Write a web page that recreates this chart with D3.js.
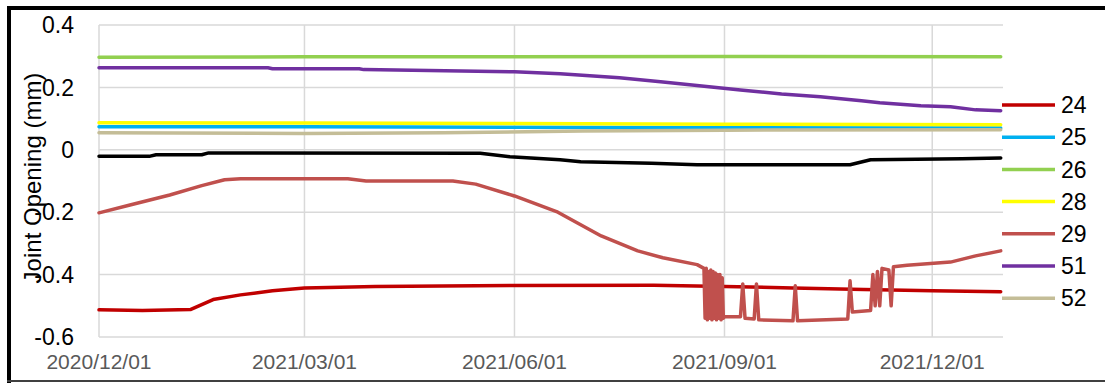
<!DOCTYPE html>
<html>
<head>
<meta charset="utf-8">
<script src="https://cdn.jsdelivr.net/npm/d3@7"></script>
<style>
  html, body { margin: 0; padding: 0; background: #fff; }
  svg { display: block; font-family: "Liberation Sans", Arial, sans-serif; }
</style>
</head>
<body>
<div id="chart"></div>
<script>
// tick labels
const xTickDates = ["2020-12-01", "2021-03-01", "2021-06-01", "2021-09-01", "2021-12-01"];
const yTickValues = [0.4, 0.2, 0, -0.2, -0.4, -0.6];
const yTickLabels = ["0.4", "0.2", "0", "-0.2", "-0.4", "-0.6"];

// series, [date, joint opening mm]
const s24 = [["2020-12-01", -0.513], ["2020-12-20", -0.515], ["2021-01-10", -0.512], ["2021-01-20", -0.48],
  ["2021-02-01", -0.465], ["2021-02-15", -0.452], ["2021-03-01", -0.443], ["2021-04-01", -0.438],
  ["2021-06-01", -0.435], ["2021-08-01", -0.434], ["2021-09-01", -0.438], ["2021-10-01", -0.443],
  ["2021-11-01", -0.448], ["2021-12-01", -0.452], ["2021-12-31", -0.455]];
const s25 = [["2020-12-01", 0.074], ["2021-03-01", 0.074], ["2021-06-01", 0.072], ["2021-09-01", 0.071], ["2021-12-31", 0.07]];
const s26 = [["2020-12-01", 0.297], ["2021-03-01", 0.298], ["2021-09-01", 0.299], ["2021-12-31", 0.298]];
const s28 = [["2020-12-01", 0.087], ["2021-03-01", 0.086], ["2021-06-01", 0.084], ["2021-09-01", 0.082], ["2021-12-31", 0.08]];
const s29 = [["2020-12-01", -0.202], ["2020-12-15", -0.176], ["2021-01-01", -0.145], ["2021-01-15", -0.115],
  ["2021-01-25", -0.096], ["2021-02-01", -0.093], ["2021-03-20", -0.093], ["2021-03-28", -0.1],
  ["2021-05-05", -0.1], ["2021-05-15", -0.11], ["2021-06-01", -0.148], ["2021-06-20", -0.2],
  ["2021-07-09", -0.276], ["2021-07-25", -0.324], ["2021-08-05", -0.346], ["2021-08-20", -0.368],
  ["2021-08-23T00", -0.38], ["2021-08-23T12", -0.54], ["2021-08-24T00", -0.38], ["2021-08-24T12", -0.545],
  ["2021-08-25T00", -0.39], ["2021-08-25T12", -0.54], ["2021-08-26T00", -0.385], ["2021-08-26T12", -0.545],
  ["2021-08-27T00", -0.39], ["2021-08-27T12", -0.54], ["2021-08-28T00", -0.395], ["2021-08-28T12", -0.545],
  ["2021-08-29T00", -0.4], ["2021-08-29T12", -0.54], ["2021-08-30T00", -0.4], ["2021-08-30T12", -0.545],
  ["2021-08-31T00", -0.41], ["2021-08-31T12", -0.54], ["2021-09-01", -0.535], ["2021-09-08", -0.535],
  ["2021-09-09", -0.43], ["2021-09-10", -0.54], ["2021-09-14", -0.542], ["2021-09-15", -0.43],
  ["2021-09-16", -0.545], ["2021-10-01", -0.548], ["2021-10-02", -0.436], ["2021-10-03", -0.548],
  ["2021-10-25", -0.542], ["2021-10-26", -0.42], ["2021-10-27", -0.52], ["2021-11-04", -0.515],
  ["2021-11-05", -0.4], ["2021-11-06", -0.5], ["2021-11-07", -0.39], ["2021-11-08", -0.5],
  ["2021-11-09", -0.38], ["2021-11-12", -0.385], ["2021-11-13", -0.5], ["2021-11-14", -0.375],
  ["2021-11-20", -0.37], ["2021-12-09", -0.36], ["2021-12-20", -0.34], ["2021-12-31", -0.324]];
const s51 = [["2020-12-01", 0.263], ["2021-02-13", 0.263], ["2021-02-15", 0.26], ["2021-03-25", 0.26],
  ["2021-03-27", 0.257], ["2021-06-01", 0.25], ["2021-06-21", 0.244], ["2021-07-17", 0.231],
  ["2021-08-04", 0.218], ["2021-08-21", 0.205], ["2021-09-08", 0.192], ["2021-09-26", 0.179],
  ["2021-10-13", 0.17], ["2021-10-31", 0.157], ["2021-11-08", 0.151], ["2021-11-26", 0.141],
  ["2021-12-09", 0.138], ["2021-12-20", 0.128], ["2021-12-31", 0.125]];
const s52 = [["2020-12-01", 0.055], ["2021-03-01", 0.052], ["2021-05-01", 0.055], ["2021-07-01", 0.06],
  ["2021-09-01", 0.063], ["2021-12-31", 0.064]];
const sBlack = [["2020-12-01", -0.021], ["2020-12-23", -0.021], ["2020-12-26", -0.016], ["2021-01-15", -0.016],
  ["2021-01-18", -0.01], ["2021-05-17", -0.011], ["2021-05-30", -0.022], ["2021-06-21", -0.032],
  ["2021-06-30", -0.038], ["2021-07-31", -0.043], ["2021-08-20", -0.048], ["2021-10-26", -0.048],
  ["2021-11-04", -0.032], ["2021-12-14", -0.029], ["2021-12-31", -0.026]];

const seriesNames = ["24", "25", "26", "28", "29", "51", "52"];
const seriesColors = ["#C00000", "#00B0F0", "#92D050", "#FFFF00", "#C0504D", "#7030A0", "#C4BD97"];
const seriesData = [s24, s25, s26, s28, s29, s51, s52];

const width = 1105, height = 383;
const plot = { left: 99, right: 1003, top: 25, bottom: 337 };

const parse = s => new Date(s.length > 10 ? s + ":00:00Z" : s + "T00:00:00Z");
const x = d3.scaleUtc()
    .domain([parse("2020-12-01"), parse("2022-01-01")])
    .range([plot.left, plot.right]);
const y = d3.scaleLinear()
    .domain([-0.6, 0.4])
    .range([plot.bottom, plot.top]);

const svg = d3.select("#chart").append("svg")
    .attr("width", width)
    .attr("height", height);

svg.append("rect").attr("width", width).attr("height", height).attr("fill", "#fff");

// outer frame
svg.append("line").attr("x1", 7).attr("x2", width).attr("y1", 8).attr("y2", 8)
    .attr("stroke", "#000").attr("stroke-width", 4);
svg.append("line").attr("x1", 9).attr("x2", 9).attr("y1", 6).attr("y2", 383)
    .attr("stroke", "#000").attr("stroke-width", 4);
svg.append("line").attr("x1", 7).attr("x2", width).attr("y1", 381).attr("y2", 381)
    .attr("stroke", "#404040").attr("stroke-width", 2);

// grid
const grid = svg.append("g").attr("stroke", "#D9D9D9").attr("stroke-width", 1.5);
grid.selectAll("line.h")
    .data(yTickValues)
    .join("line")
    .attr("class", "h")
    .attr("x1", plot.left).attr("x2", plot.right)
    .attr("y1", d => y(d)).attr("y2", d => y(d));
grid.selectAll("line.v")
    .data(xTickDates)
    .join("line")
    .attr("class", "v")
    .attr("x1", d => x(parse(d))).attr("x2", d => x(parse(d)))
    .attr("y1", plot.top).attr("y2", plot.bottom);

// y tick labels
svg.append("g")
    .selectAll("text")
    .data(yTickValues)
    .join("text")
    .attr("x", 74)
    .attr("y", d => y(d))
    .attr("dy", "0.36em")
    .attr("text-anchor", "end")
    .attr("fill", "#000")
    .style("font-size", "23px")
    .text((d, i) => yTickLabels[i]);

// x tick labels
const fmt = d3.utcFormat("%Y/%m/%d");
svg.append("g")
    .selectAll("text")
    .data(xTickDates)
    .join("text")
    .attr("x", d => x(parse(d)))
    .attr("y", 369)
    .attr("text-anchor", "middle")
    .attr("fill", "#595959")
    .style("font-size", "21px")
    .text(d => fmt(parse(d)));

// y axis title
svg.append("text")
    .attr("transform", "translate(41,178) rotate(-90)")
    .attr("text-anchor", "middle")
    .attr("fill", "#000")
    .style("font-size", "24px")
    .text("Joint Opening (mm)");

// lines
const line = d3.line()
    .x(d => x(parse(d[0])))
    .y(d => y(d[1]));

const lines = svg.append("g")
    .attr("fill", "none")
    .attr("stroke-width", 3.5)
    .attr("stroke-linejoin", "round")
    .attr("stroke-linecap", "round");

seriesData.forEach((s, i) => {
    lines.append("path")
        .attr("d", line(s))
        .attr("stroke", seriesColors[i]);
});
lines.append("path").attr("d", line(sBlack)).attr("stroke", "#000");

// legend
const legend = svg.append("g")
    .selectAll("g")
    .data(seriesNames)
    .join("g")
    .attr("transform", (d, i) => `translate(1002,${105 + i * 32.2})`);
legend.append("line")
    .attr("x1", 0).attr("x2", 53)
    .attr("stroke", (d, i) => seriesColors[i])
    .attr("stroke-width", 3.5);
legend.append("text")
    .attr("x", 59)
    .attr("dy", "0.36em")
    .attr("fill", "#000")
    .style("font-size", "23px")
    .text(d => d);
</script>
</body>
</html>
